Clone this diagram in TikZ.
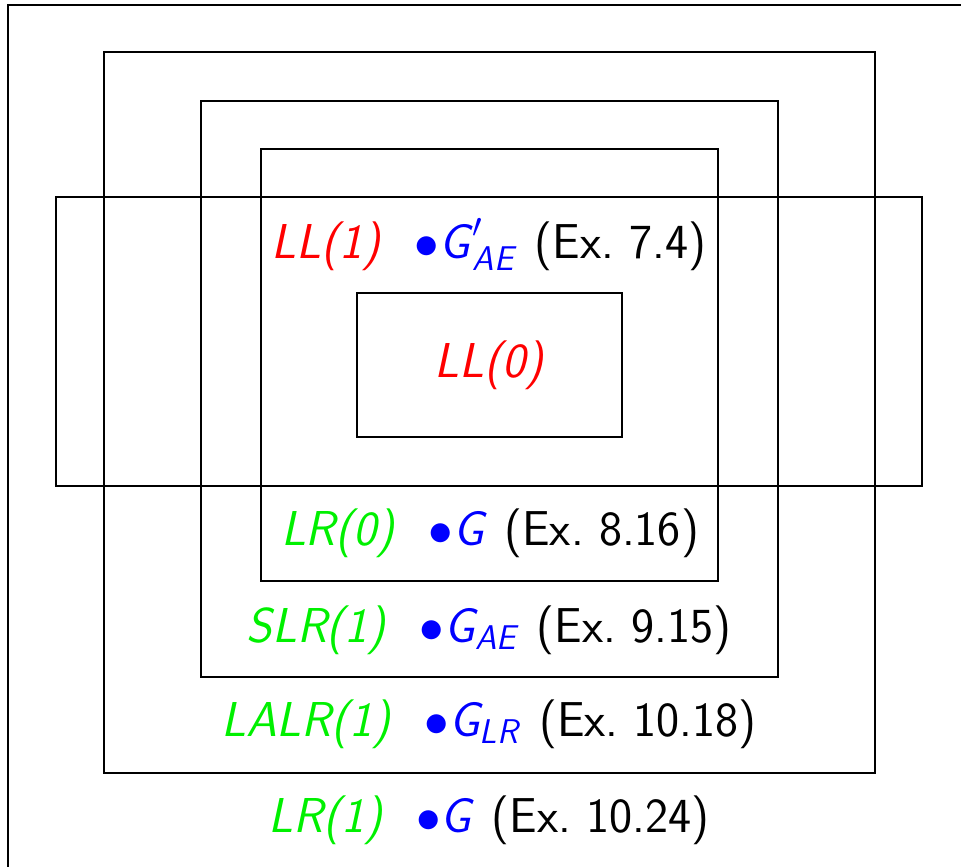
\RequirePackage{fix-cm}
\documentclass[tikz,border=0pt]{standalone}
\usepackage{amsmath}
\usepackage{xcolor}
\definecolor{llred}{RGB}{255,0,0}
\definecolor{lrgreen}{RGB}{0,240,0}
\definecolor{gblue}{RGB}{0,0,255}
\newcommand{\gsep}{\hspace{0.65em}}
\newcommand{\esep}{\hspace{0.42em}}
\begin{document}
\begin{tikzpicture}[x=1pt,y=-1pt,
  frame/.style={draw,line width=2pt,inner sep=0pt,fill=none},
  lbl/.style={inner sep=0pt,font=\fontsize{49}{55}\selectfont\sffamily}]
\useasboundingbox (0,0) rectangle (961,867);
\clip (0,0) rectangle (961,867);
\draw[line width=2pt] (990,5) -- (8,5) -- (8,900);
\node[frame,minimum width=771pt,minimum height=721pt] (A) at (489.5,412.5) {};
\node[frame,minimum width=577pt,minimum height=576pt] (B) at (489.5,389) {};
\node[frame,minimum width=457pt,minimum height=432pt] (C) at (489.5,365) {};
\node[frame,minimum width=866pt,minimum height=289pt] (D) at (489,341.5) {};
\node[frame,minimum width=265pt,minimum height=144pt] (E) at (489.5,365) {};
\node[lbl] (t1) at (489,245) {{\color{llred}\textit{LL(1)}}\gsep{\color{gblue}$\bullet\textit{G\/}'_{\textit{AE}}$}\esep(Ex.~7.4)};
\node[lbl] (t0) at (490,365) {\color{llred}\textit{LL(0)}};
\node[lbl] (t2) at (490,533) {{\color{lrgreen}\textit{LR(0)}}\gsep{\color{gblue}$\bullet\textit{G}$}\esep(Ex.~8.16)};
\node[lbl] (t3) at (489,630) {{\color{lrgreen}\textit{SLR(1)}}\gsep{\color{gblue}$\bullet\textit{G}_{\textit{AE}}$}\esep(Ex.~9.15)};
\node[lbl] (t4) at (489,724) {{\color{lrgreen}\textit{LALR(1)}}\gsep{\color{gblue}$\bullet\textit{G}_{\textit{LR}}$}\esep(Ex.~10.18)};
\node[lbl] (t5) at (489,820) {{\color{lrgreen}\textit{LR(1)}}\gsep{\color{gblue}$\bullet\textit{G}$}\esep(Ex.~10.24)};
\end{tikzpicture}
\end{document}
